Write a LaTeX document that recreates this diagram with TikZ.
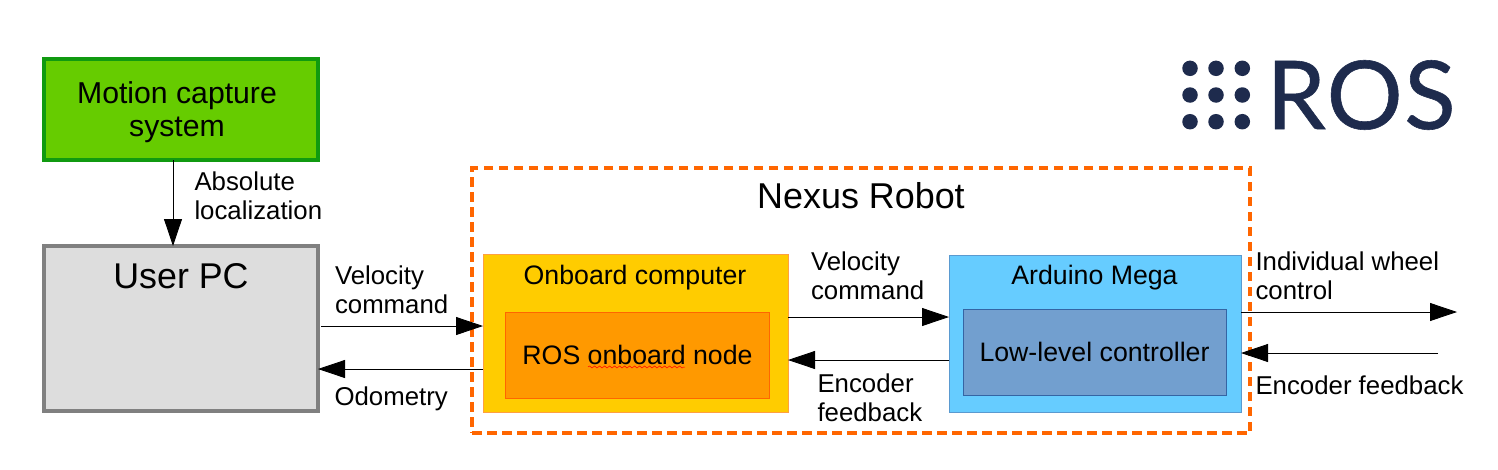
\documentclass[tikz,border=0pt]{standalone}
\usepackage{fontspec}
\setmainfont{Liberation Sans}
\newfontfamily\logofont[FakeBold=0.6,LetterSpace=1.5]{Lato}
\usetikzlibrary{arrows.meta,decorations.pathmorphing}
\definecolor{rosnavy}{HTML}{1E2B4D}
\definecolor{frameorange}{HTML}{FF6600}
\definecolor{mocapfill}{HTML}{66CC00}
\definecolor{mocapline}{HTML}{109A10}
\definecolor{pcfill}{HTML}{DDDDDD}
\definecolor{pcline}{HTML}{808080}
\definecolor{onbfill}{HTML}{FFCC00}
\definecolor{onbline}{HTML}{FFA040}
\definecolor{rosfill}{HTML}{FF9900}
\definecolor{ardfill}{HTML}{66CCFF}
\definecolor{ardline}{HTML}{5A9AD0}
\definecolor{lowfill}{HTML}{729FCF}
\definecolor{lowline}{HTML}{3465A4}
\tikzset{
  box/.style={rectangle,inner sep=0pt,outer sep=0pt,align=center},
  lbl/.style={inner sep=0pt,outer sep=0pt,align=left,anchor=west,font=\fontsize{25.8}{29}\selectfont},
  title/.style={inner sep=0pt,outer sep=0pt,align=center},
  flow/.style={draw=black,line width=0.8pt,-{Triangle[length=27pt,width=18pt,fill=black]}},
  dot/.style={circle,fill=rosnavy,minimum size=15.5pt,inner sep=0pt},
}
\begin{document}
\begin{tikzpicture}[x=1pt,y=-1pt]
\useasboundingbox (0,0) rectangle (1498,469);
% outer dashed frame
\node[box,draw=frameorange,minimum width=778pt,minimum height=265pt,line width=4.5pt,dash pattern=on 9.5pt off 5.5pt] (nexus) at (861,300.5) {};
\node[title,font=\fontsize{35.9}{40}\selectfont] (nexustitle) at (861,196) {Nexus Robot};
% motion capture and PC
\node[box,draw=mocapline,fill=mocapfill,line width=4pt,minimum width=274pt,minimum height=101pt] (mocap) at (181,109.5) {};
\node[title,font=\fontsize{30.2}{33}\selectfont] (mocaptext) at (177,112.5) {Motion capture\\system};
\node[box,draw=pcline,fill=pcfill,line width=4pt,minimum width=274pt,minimum height=165pt] (pc) at (181,328.5) {};
\node[title,font=\fontsize{35.8}{40}\selectfont] (pctext) at (181,276) {User PC};
% onboard computer
\node[box,draw=onbline,fill=onbfill,line width=1pt,minimum width=305pt,minimum height=158pt] (onb) at (635.5,333) {};
\node[title,font=\fontsize{26.7}{30}\selectfont] (onbtext) at (635,278) {Onboard computer};
\node[box,draw=frameorange,fill=rosfill,line width=1pt,minimum width=264pt,minimum height=86pt,font=\fontsize{26.7}{30}\selectfont] (rosnode) at (637.5,355) {ROS onboard node};
\draw[red,line width=0.5pt,decorate,decoration={snake,amplitude=1pt,segment length=5pt}] (588,367) -- (685,367);
% arduino
\node[box,draw=ardline,fill=ardfill,line width=1pt,minimum width=292pt,minimum height=157pt] (ard) at (1095,333.5) {};
\node[title,font=\fontsize{26.7}{30}\selectfont] (ardtext) at (1094.5,278) {Arduino Mega};
\node[box,draw=lowline,fill=lowfill,line width=1pt,minimum width=263pt,minimum height=86pt,font=\fontsize{26.7}{30}\selectfont] (low) at (1094.5,352) {Low-level controller};
% connector rows and free ends
\coordinate (xdown) at (173,0);
\coordinate (yvel) at (0,326);
\coordinate (yodo) at (0,369);
\coordinate (yvelb) at (0,317);
\coordinate (yenc) at (0,360);
\coordinate (wheelout) at (1457,312);
\coordinate (feedin) at (1438,353);
\draw[flow] (mocap.south -| xdown) -- (pc.north -| xdown);
\draw[flow] (pc.east |- yvel) ++(3,0) -- (onb.west |- yvel);
\draw[flow] (onb.west |- yodo) -- (pc.east |- yodo);
\draw[flow] (onb.east |- yvelb) -- (ard.west |- yvelb);
\draw[flow] (ard.west |- yenc) -- (onb.east |- yenc);
\draw[flow] (ard.east |- wheelout) -- (wheelout);
\draw[flow] (feedin) -- (ard.east |- feedin);
% connector labels
\node[lbl] (l1) at (194.5,196) {Absolute\\localization};
\node[lbl] (l2) at (335,290) {Velocity\\command};
\node[lbl] (l3) at (334.5,399) {Odometry};
\node[lbl] (l4) at (811,276) {Velocity\\command};
\node[lbl] (l5) at (817.5,398) {Encoder\\feedback};
\node[lbl] (l6) at (1255.5,276) {Individual wheel\\control};
\node[lbl] (l7) at (1255.5,385.5) {Encoder feedback};
% ROS logo
\foreach \i/\px in {1/1190,2/1216,3/1242.3}
  \foreach \j/\py in {1/68.3,2/95,3/121.7}
    \node[dot] (d\i\j) at (\px,\py) {};
\node[inner sep=0pt,text=rosnavy,font=\logofont\fontsize{95}{95}\selectfont] (roslogo) at (1361,95) {ROS};
\end{tikzpicture}
\end{document}
